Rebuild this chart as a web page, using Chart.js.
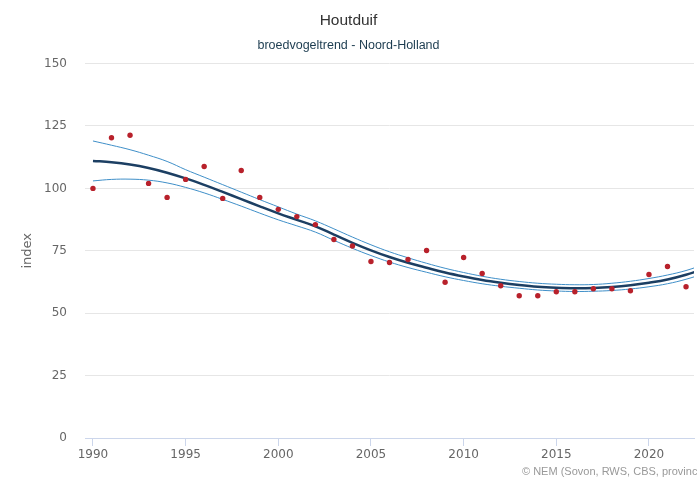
<!DOCTYPE html>
<html>
<head>
<meta charset="utf-8">
<script src="https://cdn.jsdelivr.net/npm/chart.js@4/dist/chart.umd.min.js"></script>
<style>
  html, body { margin: 0; padding: 0; background: #fff; }
  #wrap { width: 697px; height: 478px; }
</style>
</head>
<body>
<div id="wrap"><canvas id="trend-chart"></canvas></div>
<script>
// Jaren en tellingen (index)
const years = [1990, 1991, 1992, 1993, 1994, 1995, 1996, 1997, 1998, 1999,
               2000, 2001, 2002, 2003, 2004, 2005, 2006, 2007, 2008, 2009,
               2010, 2011, 2012, 2013, 2014, 2015, 2016, 2017, 2018, 2019,
               2020, 2021, 2022];
const observed = [100, 120.3, 121.3, 102, 96.4, 103.6, 108.8, 96, 107.2, 96.4,
                  91.6, 88.7, 85.5, 79.5, 76.9, 70.7, 70.3, 71.5, 75.1, 62.4,
                  72.3, 65.9, 61, 57, 57, 58.6, 58.6, 59.8, 59.8, 59,
                  65.5, 68.7, 60.6];

// Trendlijn met betrouwbaarheidsband
const trendYears = [1990, 1991, 1992, 1993, 1994, 1995, 1996, 1997, 1998, 1999,
                    2000, 2001, 2002, 2003, 2004, 2005, 2006, 2007, 2008, 2009,
                    2010, 2011, 2012, 2013, 2014, 2015, 2016, 2017, 2018, 2019,
                    2020, 2021, 2022, 2023];
const trend = [111.0, 110.5, 109.6, 108.2, 106.3, 104.0, 101.4, 98.6, 95.7, 92.8,
               90.0, 87.4, 84.8, 81.5, 78.2, 75.2, 72.5, 70.2, 68.2, 66.3,
               64.7, 63.3, 62.2, 61.3, 60.6, 60.2, 60.0, 60.1, 60.5, 61.2,
               62.2, 63.5, 65.4, 67.8];
const upper = [119.0, 117.3, 115.5, 113.3, 110.8, 107.5, 104.5, 101.5, 98.5, 95.5,
               92.6, 89.7, 87.0, 83.8, 80.5, 77.4, 74.6, 72.2, 70.0, 68.0,
               66.3, 64.8, 63.6, 62.7, 62.0, 61.6, 61.4, 61.5, 62.0, 62.8,
               63.9, 65.3, 67.1, 69.6];
const lower = [103.0, 103.6, 103.7, 103.3, 102.2, 100.4, 98.2, 95.6, 92.9, 90.1,
               87.4, 85.0, 82.5, 79.2, 76.0, 73.1, 70.5, 68.3, 66.4, 64.6,
               63.1, 61.8, 60.8, 60.0, 59.3, 58.9, 58.7, 58.8, 59.1, 59.7,
               60.6, 61.8, 63.6, 65.9];

const xTicks = [1990, 1995, 2000, 2005, 2010, 2015, 2020];
const yTicks = [0, 25, 50, 75, 100, 125, 150];

function toPoints(xs, ys) {
    return xs.map((x, i) => ({ x: x, y: ys[i] }));
}

// Bronvermelding rechtsonder
const creditsPlugin = {
    id: 'credits',
    afterDraw(chart) {
        const ctx = chart.ctx;
        ctx.save();
        ctx.font = '11px "Liberation Sans", Arial, sans-serif';
        ctx.fillStyle = '#999999';
        ctx.textAlign = 'left';
        ctx.textBaseline = 'middle';
        ctx.fillText('\u00A9 NEM (Sovon, RWS, CBS, provincies)', 522, 472);
        ctx.restore();
    }
};

const tickFont = { family: '"DejaVu Sans", Verdana, sans-serif', size: 12 };

new Chart(document.getElementById('trend-chart'), {
    data: {
        datasets: [
            {
                type: 'scatter',
                label: 'telling',
                data: toPoints(years, observed),
                pointRadius: 2.7,
                pointHoverRadius: 3,
                pointBackgroundColor: '#b8212b',
                pointBorderWidth: 0
            },
            {
                type: 'line',
                label: 'trend',
                data: toPoints(trendYears, trend),
                borderColor: '#1c3f63',
                borderWidth: 2.5,
                pointRadius: 0,
                tension: 0.4,
                fill: false
            },
            {
                type: 'line',
                label: 'bovengrens',
                data: toPoints(trendYears, upper),
                borderColor: '#3f8fc8',
                borderWidth: 1,
                pointRadius: 0,
                tension: 0.4,
                fill: false
            },
            {
                type: 'line',
                label: 'ondergrens',
                data: toPoints(trendYears, lower),
                borderColor: '#3f8fc8',
                borderWidth: 1,
                pointRadius: 0,
                tension: 0.4,
                fill: false
            }
        ]
    },
    options: {
        responsive: true,
        maintainAspectRatio: false,
        animation: false,
        layout: { padding: 0 },
        plugins: {
            legend: { display: false },
            tooltip: { enabled: false },
            title: {
                display: true,
                text: 'Houtduif',
                color: '#333333',
                font: { family: '"Liberation Sans", Arial, sans-serif', size: 15.5, weight: 'normal' },
                padding: { top: 11, bottom: 8 }
            },
            subtitle: {
                display: true,
                text: 'broedvogeltrend - Noord-Holland',
                color: '#1b3b4f',
                font: { family: '"Liberation Sans", Arial, sans-serif', size: 12.5 },
                padding: { top: 0, bottom: 11 }
            }
        },
        scales: {
            x: {
                type: 'linear',
                min: 1989.57,
                max: 2022.43,
                afterBuildTicks: axis => {
                    axis.ticks = xTicks.map(v => ({ value: v }));
                },
                afterFit: axis => { axis.height = 40; },
                ticks: {
                    color: '#666666',
                    font: tickFont,
                    padding: 2,
                    maxRotation: 0,
                    callback: v => String(v)
                },
                grid: {
                    drawOnChartArea: false,
                    drawTicks: true,
                    tickLength: 8,
                    color: '#ccd6eb'
                },
                border: { display: true, color: '#ccd6eb' }
            },
            y: {
                min: 0,
                max: 150,
                afterBuildTicks: axis => {
                    axis.ticks = yTicks.map(v => ({ value: v }));
                },
                afterFit: axis => { axis.width = 85; },
                ticks: {
                    color: '#666666',
                    font: tickFont,
                    padding: 18
                },
                grid: {
                    color: '#e6e6e6',
                    drawTicks: false
                },
                border: { display: false },
                title: {
                    display: true,
                    text: 'index',
                    color: '#666666',
                    font: { family: '"DejaVu Sans", Verdana, sans-serif', size: 13 },
                    padding: { top: 20, bottom: 0 }
                }
            }
        }
    },
    plugins: [creditsPlugin]
});
</script>
</body>
</html>
